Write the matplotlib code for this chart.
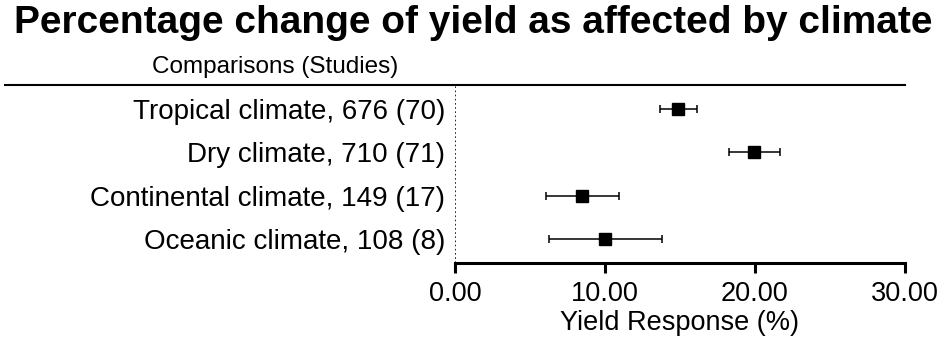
import matplotlib
matplotlib.use("Agg")
import matplotlib.pyplot as plt
from matplotlib.lines import Line2D

plt.rcParams['font.family'] = ['Liberation Sans', 'DejaVu Sans']

categories = ["Tropical climate, 676 (70)", "Dry climate, 710 (71)",
              "Continental climate, 149 (17)", "Oceanic climate, 108 (8)"]
means = [14.9, 19.95, 8.5, 10.0]
lower = [13.65, 18.25, 6.1, 6.3]
upper = [16.1, 21.7, 10.9, 13.8]
xticks = [0, 10, 20, 30]
xticklabels = ["0.00", "10.00", "20.00", "30.00"]

W, H = 945, 341
fig = plt.figure(figsize=(W/100, H/100), dpi=100)
ax = fig.add_axes([455/W, 1 - 262.7/H, 450/W, 178/H])

ypos = list(range(len(categories)))
xerr = [[m - l for m, l in zip(means, lower)], [u - m for m, u in zip(means, upper)]]
ax.errorbar(means, ypos, xerr=xerr, fmt='s', color='black', ecolor='black',
            markersize=9, elinewidth=1.1, capsize=3, capthick=1.1)

ax.set_xlim(0, 30)
ax.set_ylim(3.54, -0.55)
ax.set_xticks(xticks)
ax.set_xticklabels(xticklabels, fontsize=19.5)
ax.set_yticks(ypos)
ax.set_yticklabels(categories, fontsize=20)
ax.tick_params(axis='y', length=0, pad=7)
ax.tick_params(axis='x', length=7, width=2.2, pad=6)
for s in ['top', 'right', 'left']:
    ax.spines[s].set_visible(False)
ax.spines['bottom'].set_linewidth(2.2)
ax.axvline(0, color='black', linestyle=(0, (1, 1.5)), linewidth=1.2)
ax.set_xlabel("Yield Response (%)", fontsize=19.5, labelpad=2)

# top rule
fig.add_artist(Line2D([5/W, 905/W], [1 - 84.7/H, 1 - 84.7/H], color='black', linewidth=1.5))
fig.text(275/W, 1 - 67/H, "Comparisons (Studies)", fontsize=17.5, ha='center', va='center')
fig.text(473/W, 1 - 23/H, "Percentage change of yield as affected by climate",
         fontsize=28, fontweight='bold', ha='center', va='center')

fig.savefig("out.png", dpi=100)
